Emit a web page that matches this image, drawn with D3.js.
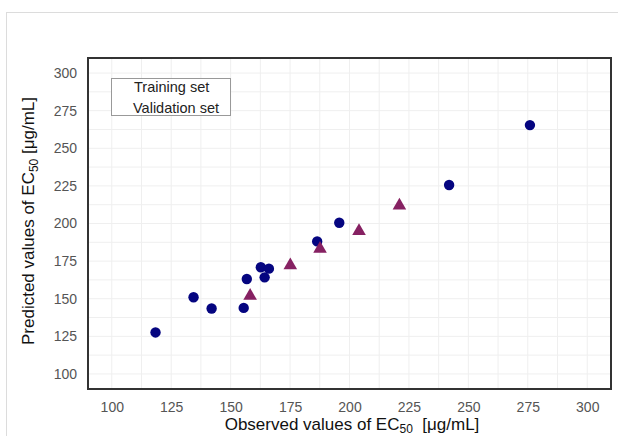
<!DOCTYPE html>
<html><head><meta charset="utf-8">
<script src="https://cdn.jsdelivr.net/npm/d3@7"></script>
<style>
html,body{margin:0;padding:0;background:#fff;}
svg{display:block;font-family:"Liberation Sans",Arial,sans-serif;}
</style></head>
<body>
<svg id="c" width="618" height="436"></svg>
<script>
const trainX = [118.4, 134.4, 142.0, 155.5, 156.8, 162.7, 166.1, 164.3, 186.4, 195.7, 241.9, 275.9];
const trainY = [127.6, 151.0, 143.5, 143.9, 163.1, 170.9, 170.0, 164.2, 188.1, 200.5, 225.6, 265.4];
const validX = [158.2, 175.1, 187.6, 204.0, 221.0];
const validY = [151.9, 172.2, 183.2, 194.9, 211.9];
const tickValues = [100, 125, 150, 175, 200, 225, 250, 275, 300];
const gridValues = d3.range(100, 300.01, 12.5);
const legendLabels = ["Training set", "Validation set"];

const svg = d3.select("#c");
const L = 88, R = 611, T = 58, B = 389;
const x = d3.scaleLinear().domain([90, 310]).range([L, R]);
const y = d3.scaleLinear().domain([90, 310]).range([B, T]);

// outer light border
svg.append("rect").attr("x", 6.5).attr("y", 12.5).attr("width", 640).attr("height", 460)
  .attr("fill", "none").attr("stroke", "#dcdcdc").attr("stroke-width", 1);

// grid
const g = svg.append("g");
g.selectAll("line.gx").data(gridValues).join("line")
  .attr("x1", d => x(d)).attr("x2", d => x(d)).attr("y1", T).attr("y2", B)
  .attr("stroke", "#efefef").attr("stroke-width", 1);
g.selectAll("line.gy").data(gridValues).join("line")
  .attr("y1", d => y(d)).attr("y2", d => y(d)).attr("x1", L).attr("x2", R)
  .attr("stroke", "#efefef").attr("stroke-width", 1);

// axes (labels only)
const xAxis = svg.append("g").attr("transform", `translate(0,${B})`)
  .call(d3.axisBottom(x).tickValues(tickValues).tickSize(0).tickPadding(13));
const yAxis = svg.append("g").attr("transform", `translate(${L},0)`)
  .call(d3.axisLeft(y).tickValues(tickValues).tickSize(0).tickPadding(11));
[xAxis, yAxis].forEach(a => {
  a.select(".domain").remove();
  a.selectAll("text").attr("fill", "#555").attr("font-size", 14)
    .attr("font-family", "'Liberation Sans',Arial,sans-serif");
});

// frame
svg.append("rect").attr("x", L).attr("y", T).attr("width", R - L).attr("height", B - T)
  .attr("fill", "none").attr("stroke", "#333").attr("stroke-width", 2);

// points
svg.append("g").selectAll("circle").data(trainX.map((v, i) => [v, trainY[i]])).join("circle")
  .attr("cx", d => x(d[0])).attr("cy", d => y(d[1])).attr("r", 5.2).attr("fill", "#050580");

const tri = d3.symbol().type(d3.symbolTriangle).size(80);
svg.append("g").selectAll("path").data(validX.map((v, i) => [v, validY[i]])).join("path")
  .attr("d", tri).attr("transform", d => `translate(${x(d[0])},${y(d[1])})`)
  .attr("fill", "#862162");

// legend
svg.append("rect").attr("x", 111.5).attr("y", 78.5).attr("width", 119).attr("height", 37)
  .attr("fill", "#fff").attr("stroke", "#999").attr("stroke-width", 1);
svg.append("g").selectAll("text").data(legendLabels).join("text")
  .attr("x", (d, i) => i === 0 ? 134 : 133).attr("y", (d, i) => 92 + i * 21)
  .attr("font-size", 14.5).attr("fill", "#222").text(d => d);

// axis titles
const xt = svg.append("text").attr("x", 352).attr("y", 430).attr("text-anchor", "middle")
  .attr("font-size", 17).attr("fill", "#111");
xt.append("tspan").text("Observed values of EC");
xt.append("tspan").attr("font-size", 12).attr("dy", 2.5).text("50");
xt.append("tspan").attr("dy", -2.5).text("\u00a0 [μg/mL]");

const yt = svg.append("text").attr("transform", "translate(34,221) rotate(-90)")
  .attr("text-anchor", "middle").attr("font-size", 17).attr("fill", "#111");
yt.append("tspan").text("Predicted values of EC");
yt.append("tspan").attr("font-size", 12).attr("dy", 4).text("50");
yt.append("tspan").attr("dy", -4).text(" [μg/mL]");
</script>
</body></html>
